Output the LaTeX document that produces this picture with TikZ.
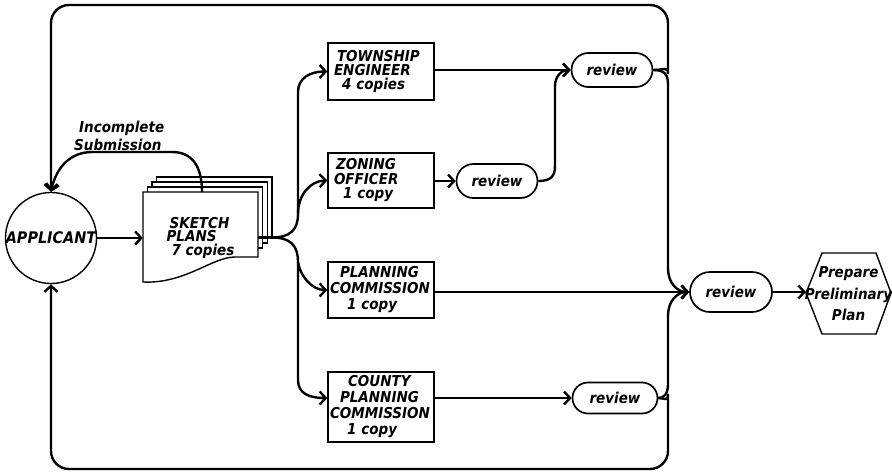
\documentclass[tikz,border=0pt]{standalone}
\usepackage{fontspec}
\setmainfont{DejaVu Sans Condensed}
\usetikzlibrary{arrows.meta,shapes.misc,shapes.geometric}
\newcommand\dgfont{\bfseries\itshape\fontsize{15}{15}\selectfont}
\newcommand\dgsz[2]{\bfseries\itshape\fontsize{#1}{#2}\selectfont}
\begin{document}
\begin{tikzpicture}[x=1pt,y=-1pt,
  conn/.style={line width=2.4pt},
  arr/.style={conn,-{Straight Barb[length=6pt,width=13pt]}},
  shp/.style={line width=1.4pt},
  txt/.style={font=\dgfont},
  box/.style={draw,shp,txt,minimum width=106pt,text width=102pt,inner xsep=2pt,inner ysep=0pt,align=left},
  rev/.style={draw,rounded rectangle,line width=1.7pt,txt,minimum width=81pt,minimum height=34pt,inner sep=0pt}
]
\useasboundingbox (0,0) rectangle (892,472);
\fill[white] (0,0) rectangle (892,472);

% applicant
\node[draw,shp,circle,minimum size=90pt,inner sep=0pt,font=\dgsz{16}{16}] (app) at (51,238) {APPLICANT};

% sketch plans (stack of sheets)
\foreach \k in {3,2,1}
  \draw[shp,fill=white] (143+4.5*\k,192-5*\k) rectangle (258+4.7*\k,253-5*\k);
\draw[shp,fill=white] (143,192) -- (258,192) -- (258,257) -- (235,257)
  .. controls (212,257) and (185,284) .. (143,282) -- cycle;
\node[txt,align=left,minimum width=115pt,minimum height=91pt,inner sep=0pt,
  font=\dgsz{15}{13.5}] (sk) at (200.5,237.5)
  {\hspace*{3pt}SKETCH\\PLANS\\\hspace*{5pt}7 copies};

% recipient boxes
\node[box,minimum height=57pt,font=\dgsz{15}{14}] (te) at (381,71.5)
  {\hspace*{7pt}TOWNSHIP\\\hspace*{4pt}ENGINEER\\\hspace*{12pt}4 copies};
\node[box,minimum height=55pt,font=\dgsz{15}{14.5}] (zo) at (381,180.5)
  {\hspace*{6pt}ZONING\\\hspace*{4pt}OFFICER\\\hspace*{13pt}1 copy};
\node[box,minimum height=56pt,font=\dgsz{15}{16}] (pc) at (381,290)
  {\hspace*{10pt}PLANNING\\COMMISSION\\\hspace*{17pt}1 copy};
\node[box,minimum height=70pt,font=\dgsz{15}{16}] (cp) at (381,407)
  {\hspace*{18pt}COUNTY\\\hspace*{10pt}PLANNING\\COMMISSION\\\hspace*{17pt}1 copy};

% review nodes
\node[rev] (rt) at (612,70) {review};
\node[rev] (rz) at (497,181) {review};
\node[rev,minimum width=82pt,minimum height=40pt] (rf) at (731,292) {review};
\node[rev,minimum width=85pt,minimum height=31pt] (rc) at (615,398) {review};

% prepare preliminary plan
\draw[shp] (806,293) -- (822,253) -- (876,253) -- (891,293) -- (876,334) -- (822,334) -- cycle;
\coordinate (hexw) at (806,293);
\node[txt,align=center,minimum width=85pt,minimum height=80pt,inner sep=0pt,
  font=\dgsz{15}{21.5}] (pp) at (848.5,294) {Prepare\\Preliminary\\Plan};

% coordinates
\coordinate (sp) at (272,237.5);
\coordinate (ju) at (298,214);
\coordinate (jd) at (298,262);
\coordinate (ycp) at (0,398);
\coordinate (is) at (202,192);

% connectors
\draw[arr] (app.east) -- (app.east -| sk.west);
\draw[conn] (sk.east) -- (sp);
\draw[arr] (sp) .. controls (290,237.5) and (298,230) .. (ju) -- (298,92)
  .. controls (298,78) and (310,71.5) .. (te.west);
\draw[arr] (ju) .. controls (298,195) and (310,181) .. (zo.west);
\draw[arr] (sp) .. controls (290,237.5) and (298,245) .. (jd) -- (298,380)
  .. controls (298,394) and (310,398) .. (cp.west |- ycp);
\draw[arr] (jd) .. controls (300,276) and (312,290) .. (pc.west);

\draw[arr] (rt.west -| te.east) -- (rt.west);
\draw[arr] (rz.west -| zo.east) -- (rz.west);
\draw[arr] (rz.east) .. controls (551,181) and (555,176) .. (555,166) -- (555,86)
  .. controls (555,76) and (562,70) .. (rt.west);
\draw[arr,rounded corners=18pt] (rt.east) .. controls (664,70) and (668,66) .. (668,56)
  -- (668,5) -| (app.north);
\draw[arr] (rt.east) .. controls (664,70) and (668,74) .. (668,84) -- (668,268)
  .. controls (668,284) and (678,292) .. (rf.west);
\draw[arr] (rf.west -| pc.east) -- (rf.west);
\draw[arr] (cp.east |- ycp) -- (rc.west);
\draw[arr] (rc.east) .. controls (664,398) and (668,394) .. (668,384) -- (668,316)
  .. controls (668,300) and (678,292) .. (rf.west);
\draw[arr,rounded corners=18pt] (rc.east) .. controls (664,398) and (668,402) .. (668,412)
  -- (668,469) -| (app.south);
\draw[arr] (rf.east) -- (rf.east -| hexw);

% incomplete submission loop
\draw[arr] (is) .. controls (202,166) and (192,152) .. (172,152) -- (92,152)
  .. controls (70,152) and (56,168) .. (app.north);
\node[txt,align=left,anchor=west,inner sep=0pt,font=\dgsz{15}{18}] (lbl) at (74,136)
  {\hspace*{5pt}Incomplete\\Submission};
\end{tikzpicture}
\end{document}
